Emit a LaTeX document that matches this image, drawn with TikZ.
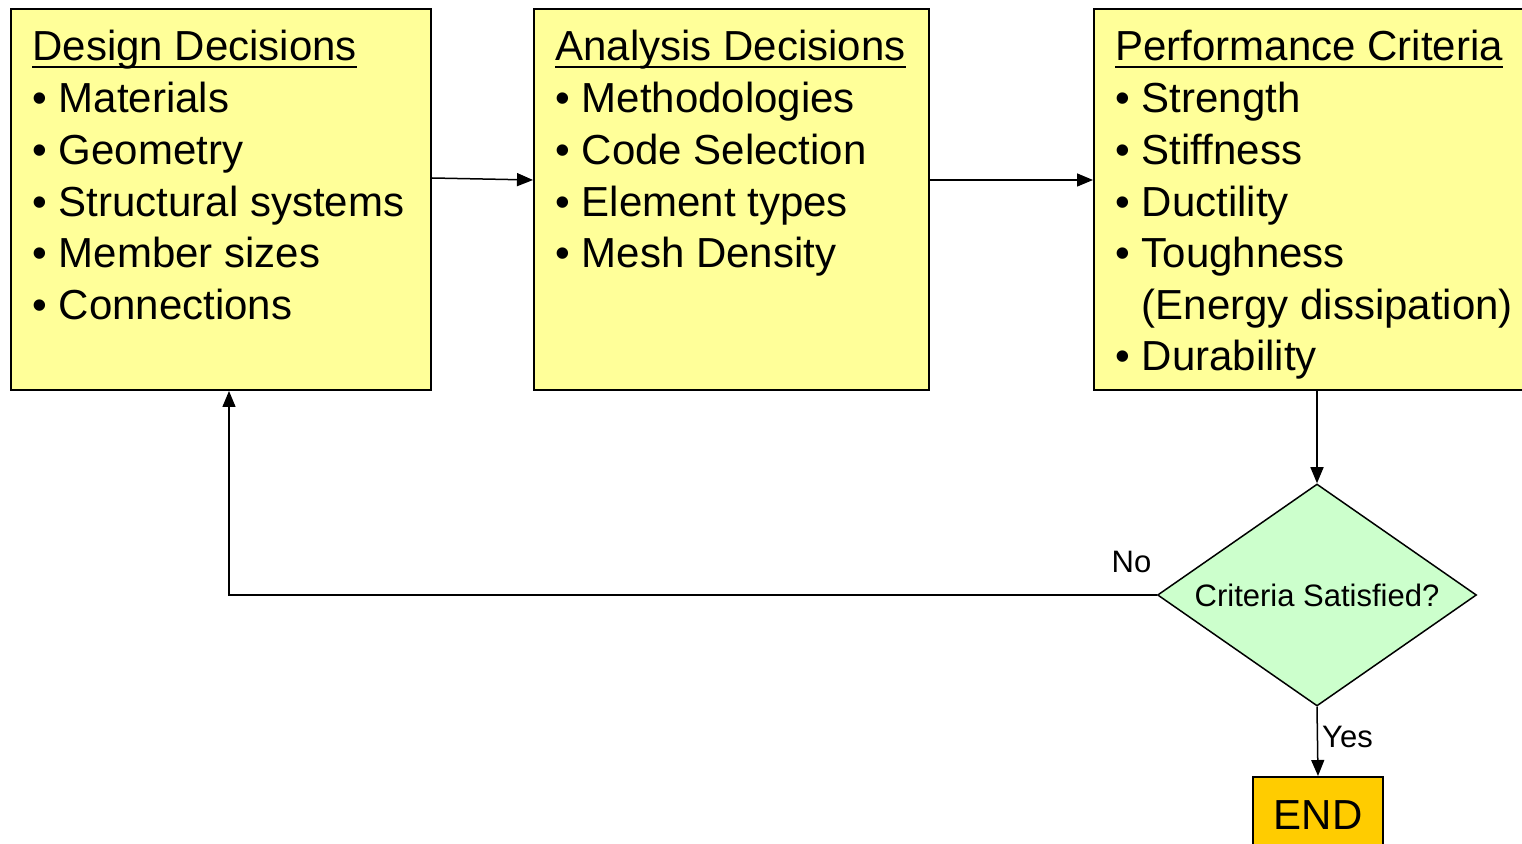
\documentclass[tikz,border=0pt]{standalone}
\usepackage{fontspec}
\setmainfont{Liberation Sans}
\usetikzlibrary{shapes.geometric,arrows.meta}
\definecolor{boxyellow}{HTML}{FFFF99}
\definecolor{decgreen}{HTML}{CCFFCC}
\definecolor{endgold}{HTML}{FFCC00}
\newcommand{\stagehead}[1]{\setbox0\hbox{#1}\rlap{\rule[-3.5pt]{\wd0}{1pt}}\box0}

\begin{document}
\begin{tikzpicture}[x=0.5pt,y=-0.5pt]
	\tikzstyle{every node}+=[inner sep=0pt]
	\tikzstyle{stagebox}=[draw=black, line width=1pt, fill=boxyellow, anchor=north west, minimum height=190.5pt]
	\tikzstyle{stagetext}=[anchor=north west, align=left, font=\fontsize{21}{25.8}\selectfont]
	\tikzstyle{smalltext}=[font=\fontsize{15.5}{18}\selectfont]
	\tikzstyle{flow}=[black, line width=0.75pt, -{Triangle[length=8pt,width=6.5pt]}]
	\useasboundingbox (0,0) rectangle (1522,844);
	% the three stages
	\node [stagebox, minimum width=210pt] (design) at (10,8) {};
	\node [stagetext] (designtxt) at ([shift={(22,22)}]design.north west) {\stagehead{Design Decisions}\\[0.2pt] • Materials\\ • Geometry\\ • Structural systems\\ • Member sizes\\ • Connections};
	\node [stagebox, minimum width=197.5pt] (analysis) at (533,8) {};
	\node [stagetext] (analysistxt) at ([shift={(22,22)}]analysis.north west) {\stagehead{Analysis Decisions}\\[0.2pt] • Methodologies\\ • Code Selection\\ • Element types\\ • Mesh Density};
	\node [stagebox, minimum width=223.5pt] (perf) at (1093,8) {};
	\node [stagetext] (perftxt) at ([shift={(22,22)}]perf.north west) {\stagehead{Performance Criteria}\\[0.2pt] • Strength\\ • Stiffness\\ • Ductility\\ • Toughness\\ \hphantom{• }(Energy dissipation)\\ • Durability};
	% check and end
	\node [draw=black, line width=0.75pt, fill=decgreen, diamond, aspect=1.437, minimum width=159.5pt, minimum height=111pt, smalltext] (check) at (1317,595) {Criteria Satisfied?};
	\node [draw=black, line width=1pt, fill=endgold, minimum width=65pt, minimum height=38pt, anchor=north, font=\fontsize{21}{25}\selectfont] (finish) at (1318,776) {END};
	% connectors
	\draw [flow] ([yshift=10.75pt]design.east) -- ([yshift=9.75pt]analysis.west);
	\draw [flow] ([yshift=9.75pt]analysis.east) -- ([yshift=9.75pt]perf.west);
	\draw [flow] (perf.south -| check.north) -- (check.north);
	\draw [flow] (check.south) -- (finish.north) node [pos=0.44, right, xshift=2pt, smalltext] (yeslbl) {Yes};
	\coordinate (back) at ([xshift=4pt]design.south);
	\draw [flow] (check.west) -- (back |- check.west) -- (back);
	\node [anchor=south east, smalltext] (nolbl) at ([shift={(-5,-22)}]check.west) {No};
\end{tikzpicture}
\end{document}
